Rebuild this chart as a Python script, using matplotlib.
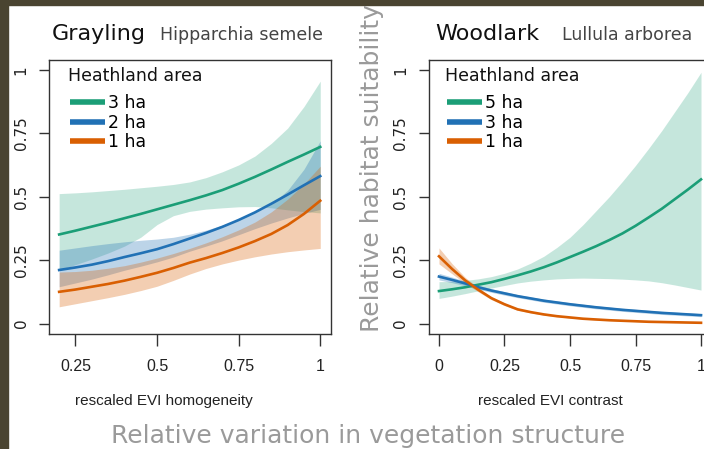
######
# Habitat suitability vs. vegetation structure - Grayling and Woodlark
######

import matplotlib
matplotlib.use("Agg")
import matplotlib.pyplot as plt
from matplotlib.patches import Rectangle

# Data
## Grayling (left panel)
grayling_x = [0.2, 0.25, 0.3, 0.35, 0.4, 0.45, 0.5, 0.55, 0.6, 0.65, 0.7, 0.75, 0.8, 0.85, 0.9, 0.95, 1.0]
grayling_3ha = [0.351, 0.366, 0.382, 0.398, 0.415, 0.432, 0.450, 0.468, 0.486, 0.505, 0.526, 0.551,
                0.578, 0.607, 0.637, 0.666, 0.696]
grayling_3ha_low = [0.211, 0.232, 0.254, 0.278, 0.305, 0.340, 0.390, 0.425, 0.442, 0.451, 0.456, 0.460,
                    0.461, 0.456, 0.448, 0.441, 0.436]
grayling_3ha_high = [0.512, 0.515, 0.519, 0.524, 0.529, 0.535, 0.541, 0.548, 0.558, 0.575, 0.598, 0.625,
                     0.660, 0.710, 0.770, 0.855, 0.955]
grayling_2ha = [0.211, 0.221, 0.232, 0.246, 0.262, 0.277, 0.293, 0.313, 0.335, 0.357, 0.381, 0.408,
                0.438, 0.472, 0.508, 0.545, 0.581]
grayling_2ha_low = [0.145, 0.160, 0.175, 0.192, 0.210, 0.226, 0.243, 0.262, 0.285, 0.305, 0.326, 0.350,
                    0.374, 0.396, 0.416, 0.434, 0.450]
grayling_2ha_high = [0.289, 0.298, 0.307, 0.315, 0.322, 0.328, 0.333, 0.340, 0.352, 0.368, 0.388, 0.410,
                     0.437, 0.470, 0.525, 0.608, 0.720]
grayling_1ha = [0.125, 0.134, 0.145, 0.156, 0.169, 0.184, 0.200, 0.219, 0.240, 0.258, 0.278, 0.300,
                0.325, 0.353, 0.388, 0.432, 0.484]
grayling_1ha_low = [0.066, 0.078, 0.090, 0.102, 0.115, 0.130, 0.147, 0.170, 0.195, 0.217, 0.235, 0.250,
                    0.263, 0.274, 0.283, 0.290, 0.296]
grayling_1ha_high = [0.203, 0.205, 0.210, 0.218, 0.228, 0.242, 0.258, 0.276, 0.296, 0.318, 0.342, 0.369,
                     0.400, 0.440, 0.490, 0.550, 0.620]

## Woodlark (right panel)
woodlark_x = [0.0, 0.05, 0.1, 0.15, 0.2, 0.25, 0.3, 0.35, 0.4, 0.45, 0.5, 0.55, 0.6, 0.65, 0.7, 0.75,
              0.8, 0.85, 0.9, 0.95, 1.0]
woodlark_5ha = [0.128, 0.135, 0.143, 0.153, 0.163, 0.176, 0.190, 0.205, 0.222, 0.241, 0.262, 0.283,
                0.305, 0.329, 0.355, 0.385, 0.418, 0.452, 0.490, 0.528, 0.568]
woodlark_5ha_low = [0.099, 0.108, 0.118, 0.129, 0.140, 0.150, 0.160, 0.167, 0.172, 0.176, 0.178, 0.179,
                    0.178, 0.177, 0.175, 0.172, 0.168, 0.161, 0.152, 0.142, 0.132]
woodlark_5ha_high = [0.165, 0.166, 0.170, 0.176, 0.185, 0.198, 0.215, 0.238, 0.265, 0.300, 0.340, 0.390,
                     0.445, 0.500, 0.560, 0.623, 0.690, 0.760, 0.835, 0.910, 0.990]
woodlark_3ha = [0.185, 0.172, 0.158, 0.143, 0.130, 0.119, 0.108, 0.099, 0.090, 0.083, 0.076, 0.070,
                0.064, 0.059, 0.054, 0.050, 0.046, 0.042, 0.039, 0.036, 0.033]
woodlark_3ha_low = [0.172, 0.161, 0.149, 0.135, 0.123, 0.112, 0.102, 0.093, 0.084, 0.077, 0.070, 0.064,
                    0.058, 0.053, 0.048, 0.044, 0.040, 0.036, 0.033, 0.030, 0.027]
woodlark_3ha_high = [0.198, 0.183, 0.167, 0.151, 0.137, 0.126, 0.114, 0.105, 0.096, 0.089, 0.082, 0.076,
                     0.070, 0.065, 0.060, 0.056, 0.052, 0.048, 0.045, 0.042, 0.039]
woodlark_1ha = [0.265, 0.215, 0.170, 0.133, 0.100, 0.076, 0.056, 0.045, 0.036, 0.029, 0.024, 0.019,
                0.016, 0.013, 0.011, 0.009, 0.007, 0.006, 0.005, 0.004, 0.003]
woodlark_1ha_low = [0.235, 0.196, 0.158, 0.125, 0.094, 0.071, 0.052, 0.042, 0.033, 0.027, 0.022, 0.017,
                    0.014, 0.012, 0.010, 0.008, 0.006, 0.005, 0.004, 0.003, 0.002]
woodlark_1ha_high = [0.298, 0.236, 0.182, 0.141, 0.106, 0.081, 0.060, 0.048, 0.039, 0.032, 0.026, 0.021,
                     0.018, 0.015, 0.012, 0.010, 0.008, 0.007, 0.006, 0.005, 0.004]

y_ticks = [0, 0.25, 0.5, 0.75, 1]
y_ticklabels = ["0", "0.25", "0.5", "0.75", "1"]
grayling_xticks = [0.25, 0.5, 0.75, 1]
grayling_xticklabels = ["0.25", "0.5", "0.75", "1"]
woodlark_xticks = [0, 0.25, 0.5, 0.75, 1]
woodlark_xticklabels = ["0", "0.25", "0.5", "0.75", "1"]

GREEN = "#1b9e77"
BLUE = "#2171b5"
ORANGE = "#d95f02"
BORDER = "#4a4431"
GREY_TEXT = "#9a9a9a"
NARROW = "Liberation Sans"

W, H = 704, 449


def fx(px):
    return px / W


def fy(py):
    return 1 - py / H


def draw_panel(ax, x, series, xticks, xticklabels, xlim, legend_x):
    """Draws the ribbons, lines, axes and legend for one panel."""
    # ribbons first, then the lines on top
    for label, colour, mid, low, high, alpha in series:
        ax.fill_between(x, low, high, color=colour, alpha=alpha, linewidth=0)
    handles = []
    for label, colour, mid, low, high, alpha in series:
        line, = ax.plot(x, mid, color=colour, linewidth=1.9, label=label)
        handles.append(line)

    ax.set_xlim(*xlim)
    ax.set_ylim(-0.04, 1.04)
    ax.set_yticks(y_ticks)
    ax.set_yticklabels(y_ticklabels, rotation=90, va="center", fontsize=11,
                       color="#222222")
    ax.set_xticks(xticks)
    ax.set_xticklabels(xticklabels, fontsize=11.5, family=NARROW, color="#222222")
    ax.tick_params(axis="y", length=7.5, width=1, color="#333333", pad=7)
    ax.tick_params(axis="x", length=8.5, width=1, color="#333333", pad=10)
    for spine in ax.spines.values():
        spine.set_color("#333333")
        spine.set_linewidth(1.0)

    # legend title written separately so its gap to the entries can be set
    ax.text(legend_x - 0.007, 0.940, "Heathland area", transform=ax.transAxes,
            fontsize=12.5, ha="left", va="center", color="#111111")
    leg = ax.legend(handles=handles, loc="upper left",
                    bbox_to_anchor=(legend_x, 0.873), frameon=False, fontsize=12.5,
                    handlelength=2.0, handletextpad=0.17, labelspacing=0.08,
                    borderpad=0, borderaxespad=0)
    for h in leg.get_lines():
        h.set_linewidth(4.0)
        h.set_solid_capstyle("butt")
    return leg


fig = plt.figure(figsize=(W / 100, H / 100), dpi=100)
fig.patch.set_facecolor("white")

# dark frame on the left and top edge of the slide
fig.patches.append(Rectangle((0, 0), fx(8), 1, transform=fig.transFigure,
                             color=BORDER, zorder=0))
fig.patches.append(Rectangle((0, fy(5)), 1, fy(0) - fy(5), transform=fig.transFigure,
                             color=BORDER, zorder=0))

ax_left = fig.add_axes([fx(48.7), fy(333.7), fx(282), fy(59.6) - fy(333.7)])
ax_right = fig.add_axes([fx(428.5), fy(333.7), fx(283), fy(59.6) - fy(333.7)])

grayling_series = [
    ("3 ha", GREEN, grayling_3ha, grayling_3ha_low, grayling_3ha_high, 0.25),
    ("2 ha", BLUE, grayling_2ha, grayling_2ha_low, grayling_2ha_high, 0.3),
    ("1 ha", ORANGE, grayling_1ha, grayling_1ha_low, grayling_1ha_high, 0.3),
]
woodlark_series = [
    ("5 ha", GREEN, woodlark_5ha, woodlark_5ha_low, woodlark_5ha_high, 0.25),
    ("3 ha", BLUE, woodlark_3ha, woodlark_3ha_low, woodlark_3ha_high, 0.3),
    ("1 ha", ORANGE, woodlark_1ha, woodlark_1ha_low, woodlark_1ha_high, 0.3),
]

draw_panel(ax_left, grayling_x, grayling_series, grayling_xticks,
           grayling_xticklabels, (0.168, 1.032), 0.0755)
draw_panel(ax_right, woodlark_x, woodlark_series, woodlark_xticks,
           woodlark_xticklabels, (-0.04, 1.04), 0.0654)

# Panel titles
fig.text(fx(52), fy(40), "Grayling", fontsize=16, color="#111111", va="baseline")
fig.text(fx(160), fy(40), "Hipparchia semele", fontsize=12.5, color="#444444", va="baseline")
fig.text(fx(435), fy(40), "Woodlark", fontsize=16, color="#111111", va="baseline")
fig.text(fx(562), fy(40), "Lullula arborea", fontsize=12.5, color="#444444", va="baseline")

# Axis labels
fig.text(fx(164), fy(401), "rescaled EVI homogeneity", fontsize=11, family=NARROW,
         color="#222222", ha="center", va="center")
fig.text(fx(550), fy(401), "rescaled EVI contrast", fontsize=11, family=NARROW,
         color="#222222", ha="center", va="center")
fig.text(fx(372), fy(168), "Relative habitat suitability", fontsize=18,
         color=GREY_TEXT, rotation=90, ha="center", va="center")
fig.text(fx(368), fy(443), "Relative variation in vegetation structure", fontsize=18,
         color=GREY_TEXT, ha="center", va="baseline")

fig.savefig("out.png", dpi=100)
